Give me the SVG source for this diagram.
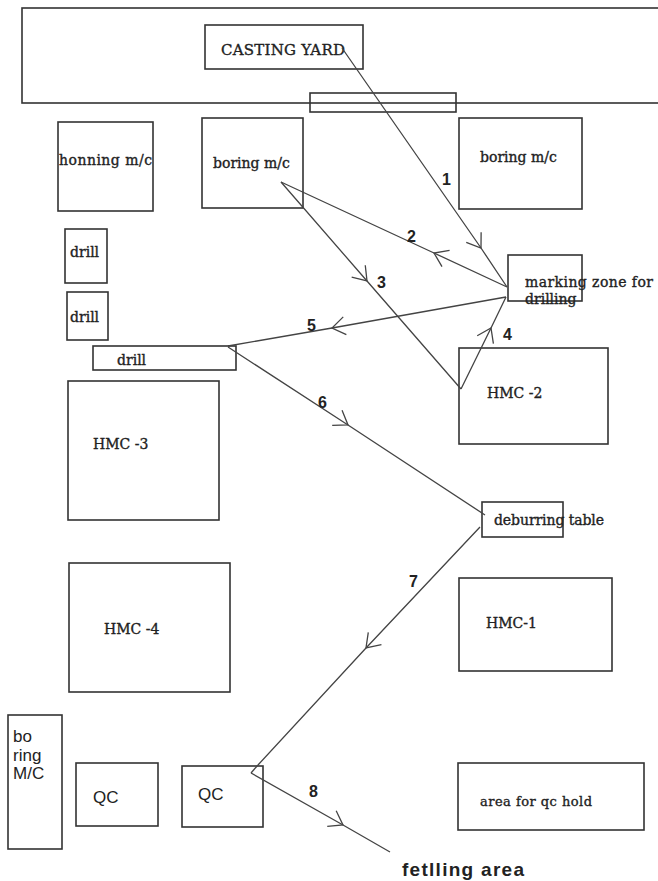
<svg xmlns="http://www.w3.org/2000/svg" width="658" height="881" viewBox="0 0 658 881">
<style>
.box{fill:none;stroke:#333;stroke-width:1.6}
.t{font-family:"DejaVu Serif","Liberation Serif",serif;font-size:14px;fill:#222;stroke:#222;stroke-width:0.35}
.s{font-family:"Liberation Sans",Arial,sans-serif;font-size:17px;fill:#222}
.n{font-family:"Liberation Sans",Arial,sans-serif;font-size:16px;font-weight:bold;fill:#222}
.c{fill:none;stroke:#444;stroke-width:1.3;marker-mid:url(#v)}
.p{fill:none;stroke:#444;stroke-width:1.3}
</style>
<defs>
<marker id="v" markerUnits="userSpaceOnUse" markerWidth="30" markerHeight="30" viewBox="-15 -15 30 30" refX="0" refY="0" orient="auto" overflow="visible">
<path d="M -13 -9 L 0 0 L -13 9" fill="none" stroke="#444" stroke-width="1.3"/>
</marker>
</defs>
<rect width="658" height="881" fill="#fff"/>
<g id="yard-border"><rect class="box" x="22" y="8" width="660" height="95"/></g>
<g id="casting-yard"><rect class="box" x="205" y="25" width="158" height="44"/><text class="t" x="221" y="55" style="font-size:15px" textLength="124">CASTING YARD</text></g>
<g id="gate"><rect class="box" x="310" y="93" width="146" height="19"/></g>
<g id="honning"><rect class="box" x="58" y="122" width="95" height="89"/><text class="t" x="59" y="165" textLength="93">honning m/c</text></g>
<g id="boring-1"><rect class="box" x="202" y="118" width="101" height="90"/><text class="t" x="213" y="168">boring m/c</text></g>
<g id="boring-2"><rect class="box" x="459" y="118" width="123" height="91"/><text class="t" x="480" y="162">boring m/c</text></g>
<g id="drill-1"><rect class="box" x="65" y="229" width="42" height="54"/><text class="t" x="70" y="257">drill</text></g>
<g id="drill-2"><rect class="box" x="67" y="292" width="41" height="48"/><text class="t" x="70" y="322">drill</text></g>
<g id="drill-3"><rect class="box" x="93" y="346" width="143" height="24"/><text class="t" x="117" y="365">drill</text></g>
<g id="marking-zone"><rect class="box" x="508" y="255" width="74" height="46"/><text class="t" x="525" y="287" textLength="128">marking zone for</text><text class="t" x="525" y="304">drilling</text></g>
<g id="hmc-3"><rect class="box" x="68" y="381" width="151" height="139"/><text class="t" x="93" y="449">HMC -3</text></g>
<g id="hmc-2"><rect class="box" x="459" y="348" width="149" height="96"/><text class="t" x="487" y="398">HMC  -2</text></g>
<g id="deburring"><rect class="box" x="482" y="502" width="81" height="35"/><text class="t" x="494" y="525" textLength="110">deburring table</text></g>
<g id="hmc-4"><rect class="box" x="69" y="563" width="161" height="129"/><text class="t" x="104" y="634">HMC -4</text></g>
<g id="hmc-1"><rect class="box" x="459" y="578" width="153" height="93"/><text class="t" x="486" y="628">HMC-1</text></g>
<g id="boring-3"><rect class="box" x="8" y="715" width="54" height="134"/><text class="s" x="13" y="742">bo</text><text class="s" x="13" y="761">ring</text><text class="s" x="13" y="779">M/C</text></g>
<g id="qc-1"><rect class="box" x="76" y="763" width="82" height="63"/><text class="s" x="93" y="803">QC</text></g>
<g id="qc-2"><rect class="box" x="182" y="766" width="81" height="61"/><text class="s" x="198" y="800">QC</text></g>
<g id="qc-hold"><rect class="box" x="458" y="763" width="186" height="67"/><text class="t" x="480" y="806" style="font-size:13px" textLength="112">area for qc hold</text></g>
<g id="fetlling"><text class="n" x="402" y="876" style="font-size:19px" textLength="122">fetlling area</text></g>
<g id="connectors">
<path class="c" d="M 342 48 L 481 248 L 507 287"/>
<path class="c" d="M 507 287 L 434 253 L 281 182"/>
<path class="c" d="M 281 182 L 367 281 L 461 389"/>
<path class="c" d="M 461 389 L 491 328 L 506 297"/>
<path class="c" d="M 506 297 L 332 328 L 228 346"/>
<path class="c" d="M 228 347 L 348 425 L 485 515"/>
<path class="c" d="M 480 527 L 366 648 L 258 765"/>
<path class="p" d="M 258 765 L 251 773"/>
<path class="c" d="M 251 773 L 343 825 L 390 852"/>
<text class="n" x="442" y="185">1</text>
<text class="n" x="407" y="242">2</text>
<text class="n" x="377" y="288">3</text>
<text class="n" x="503" y="340">4</text>
<text class="n" x="307" y="331">5</text>
<text class="n" x="318" y="408">6</text>
<text class="n" x="409" y="587">7</text>
<text class="n" x="309" y="797">8</text>
</g>
</svg>
